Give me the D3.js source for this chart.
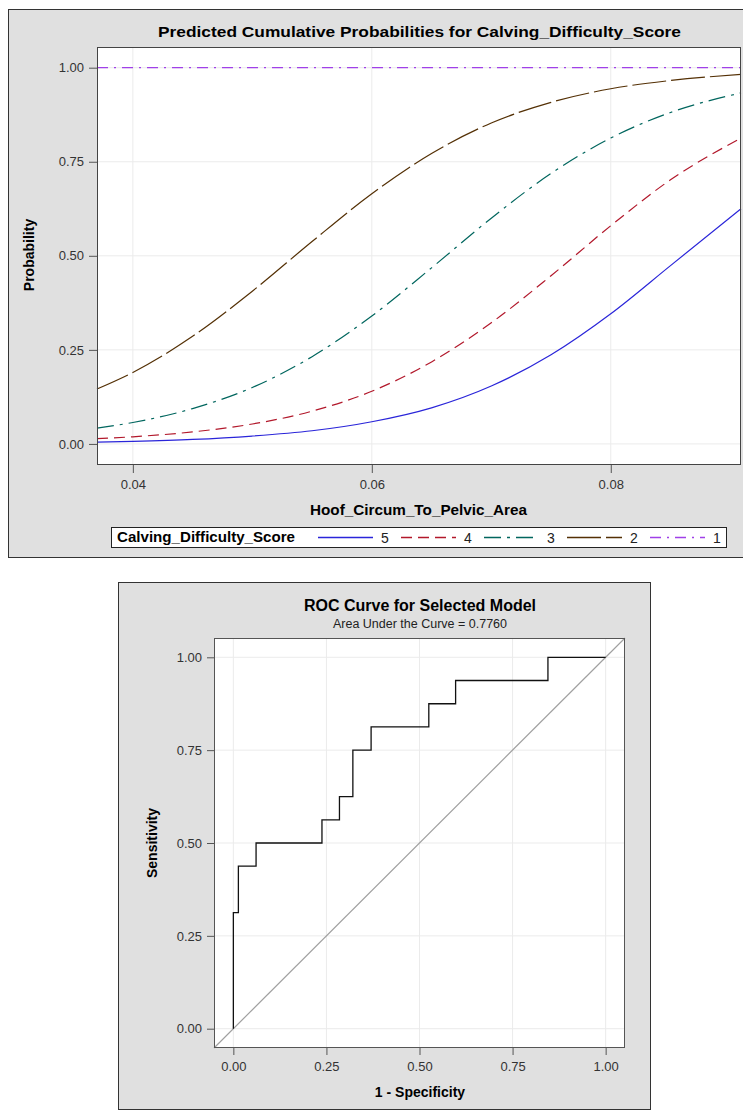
<!DOCTYPE html>
<html>
<head>
<meta charset="utf-8">
<script src="https://cdn.jsdelivr.net/npm/d3@7"></script>
<style>
  body { margin: 0; background: #fff; }
  svg { display: block; font-family: "Liberation Sans", Arial, sans-serif; }
  .tick text { fill: #333; }
</style>
</head>
<body>
<div id="chart-area"></div>
<script>
// ---- top chart: cumulative probabilities ----
var hoofRatio = [0.037, 0.040, 0.045, 0.050, 0.055, 0.060, 0.065, 0.070, 0.075, 0.080, 0.085, 0.0909];
var probScore5 = [0.005, 0.007, 0.012, 0.021, 0.035, 0.059, 0.096, 0.154, 0.237, 0.346, 0.474, 0.625];
var probScore4 = [0.014, 0.019, 0.032, 0.053, 0.087, 0.140, 0.218, 0.322, 0.447, 0.580, 0.702, 0.813];
var probScore3 = [0.042, 0.057, 0.094, 0.150, 0.232, 0.340, 0.468, 0.600, 0.719, 0.813, 0.881, 0.933];
var probScore2 = [0.146, 0.190, 0.286, 0.406, 0.538, 0.665, 0.772, 0.853, 0.908, 0.944, 0.966, 0.982];
var probScore1 = [1, 1, 1, 1, 1, 1, 1, 1, 1, 1, 1, 1];
var scoreLabels = ["5", "4", "3", "2", "1"];
var probTicksX = [0.04, 0.06, 0.08];
var probTicksY = [0, 0.25, 0.5, 0.75, 1];

// ---- bottom chart: ROC ----
var rocFpr = [0, 0, 0.0135, 0.061, 0.238, 0.285, 0.321, 0.370, 0.525, 0.597, 0.845, 1];
var rocSens = [0, 0.3125, 0.4375, 0.5, 0.5625, 0.625, 0.75, 0.8125, 0.875, 0.9375, 1, 1];
var rocTicks = [0, 0.25, 0.5, 0.75, 1];

var seriesColors = ["#2A25D9", "#B2182B", "#01665E", "#543005", "#A040E8"];
var seriesDash = [null, "11,6", "17,6,3,6", "34,5", "11,6,2,6"];

var svg = d3.select("#chart-area")
  .append("svg")
  .attr("width", 743)
  .attr("height", 1110);

function styleAxis(g) {
  g.select(".domain").remove();
  g.selectAll(".tick line").attr("stroke", "#555");
  g.selectAll(".tick text").attr("font-size", "13px");
}

// =============== TOP PANEL ===============
svg.append("rect")
  .attr("x", 8.5).attr("y", 9.5)
  .attr("width", 745).attr("height", 548)
  .attr("fill", "#e0e0e0")
  .attr("stroke", "#333");

var x = d3.scaleLinear().domain([0.037, 0.0909]).range([97, 741]);
var y = d3.scaleLinear().domain([-0.056, 1.055]).range([465, 47]);

svg.append("rect")
  .attr("x", 97).attr("y", 47)
  .attr("width", 644).attr("height", 418)
  .attr("fill", "#fff");

var probG = svg.append("g");

probG.selectAll(".vgrid")
  .data(probTicksX).enter()
  .append("line")
  .attr("x1", d => x(d)).attr("x2", d => x(d))
  .attr("y1", 47).attr("y2", 465)
  .attr("stroke", "#ebebeb");

probG.selectAll(".hgrid")
  .data(probTicksY).enter()
  .append("line")
  .attr("x1", 97).attr("x2", 741)
  .attr("y1", d => y(d)).attr("y2", d => y(d))
  .attr("stroke", "#ebebeb");

var allSeries = [probScore5, probScore4, probScore3, probScore2, probScore1];

var line = d3.line()
  .x((d, i) => x(hoofRatio[i]))
  .y(d => y(d))
  .curve(d3.curveMonotoneX);

probG.selectAll(".curve")
  .data(allSeries).enter()
  .append("path")
  .attr("d", d => line(d))
  .attr("fill", "none")
  .attr("stroke", (d, i) => seriesColors[i])
  .attr("stroke-width", 1.2)
  .attr("stroke-dasharray", (d, i) => seriesDash[i]);

svg.append("rect")
  .attr("x", 97.5).attr("y", 47.5)
  .attr("width", 643).attr("height", 417)
  .attr("fill", "none")
  .attr("stroke", "#444");

svg.append("g")
  .attr("transform", "translate(97,0)")
  .call(d3.axisLeft(y).tickValues(probTicksY).tickFormat(d3.format(".2f")).tickSize(8).tickPadding(5))
  .call(styleAxis);

svg.append("g")
  .attr("transform", "translate(0,465)")
  .call(d3.axisBottom(x).tickValues(probTicksX).tickFormat(d3.format(".2f")).tickSize(8).tickPadding(7))
  .call(styleAxis);

svg.append("text")
  .attr("x", 419.5).attr("y", 36.5)
  .attr("text-anchor", "middle")
  .attr("font-size", "15px").attr("font-weight", "bold")
  .attr("textLength", 523).attr("lengthAdjust", "spacingAndGlyphs")
  .text("Predicted Cumulative Probabilities for Calving_Difficulty_Score");

svg.append("text")
  .attr("x", 418.5).attr("y", 515)
  .attr("text-anchor", "middle")
  .attr("font-size", "14px").attr("font-weight", "bold")
  .attr("textLength", 217).attr("lengthAdjust", "spacingAndGlyphs")
  .text("Hoof_Circum_To_Pelvic_Area");

svg.append("text")
  .attr("transform", "translate(34,255) rotate(-90)")
  .attr("text-anchor", "middle")
  .attr("font-size", "14px").attr("font-weight", "bold")
  .text("Probability");

// legend
svg.append("rect")
  .attr("x", 111.5).attr("y", 527.5)
  .attr("width", 615).attr("height", 20)
  .attr("fill", "#fff")
  .attr("stroke", "#222");

svg.append("text")
  .attr("x", 117).attr("y", 542)
  .attr("font-size", "14px").attr("font-weight", "bold")
  .attr("textLength", 178).attr("lengthAdjust", "spacingAndGlyphs")
  .text("Calving_Difficulty_Score");

var legendItem = svg.selectAll(".legend-item")
  .data(scoreLabels).enter()
  .append("g")
  .attr("class", "legend-item")
  .attr("transform", (d, i) => `translate(${318 + i * 83}, 537.5)`);

legendItem.append("line")
  .attr("x1", 0).attr("x2", 55)
  .attr("stroke", d => seriesColors[scoreLabels.indexOf(d)])
  .attr("stroke-width", 1.4)
  .attr("stroke-dasharray", d => seriesDash[scoreLabels.indexOf(d)]);

legendItem.append("text")
  .attr("x", 67).attr("y", 5)
  .attr("text-anchor", "middle")
  .attr("font-size", "14px")
  .attr("fill", "#222")
  .text(d => d);

// =============== BOTTOM PANEL ===============
svg.append("rect")
  .attr("x", 118.5).attr("y", 582.5)
  .attr("width", 532).attr("height", 527)
  .attr("fill", "#e0e0e0")
  .attr("stroke", "#333");

var xr = d3.scaleLinear().domain([-0.052, 1.052]).range([214, 625]);
var yr = d3.scaleLinear().domain([-0.052, 1.052]).range([1048, 638]);

svg.append("rect")
  .attr("x", 214).attr("y", 638)
  .attr("width", 411).attr("height", 410)
  .attr("fill", "#fff");

var roc = svg.append("g");

roc.selectAll(".vgrid")
  .data(rocTicks).enter()
  .append("line")
  .attr("x1", d => xr(d)).attr("x2", d => xr(d))
  .attr("y1", 638).attr("y2", 1048)
  .attr("stroke", "#ebebeb");

roc.selectAll(".hgrid")
  .data(rocTicks).enter()
  .append("line")
  .attr("x1", 214).attr("x2", 625)
  .attr("y1", d => yr(d)).attr("y2", d => yr(d))
  .attr("stroke", "#ebebeb");

roc.append("line")
  .attr("x1", xr(-0.052)).attr("y1", yr(-0.052))
  .attr("x2", xr(1.052)).attr("y2", yr(1.052))
  .attr("stroke", "#a0a0a0")
  .attr("stroke-width", 1.2);

var rocLine = d3.line()
  .x((d, i) => xr(rocFpr[i]))
  .y(d => yr(d))
  .curve(d3.curveStepAfter);

roc.append("path")
  .attr("d", rocLine(rocSens))
  .attr("fill", "none")
  .attr("stroke", "#111")
  .attr("stroke-width", 1.3);

svg.append("rect")
  .attr("x", 214.5).attr("y", 638.5)
  .attr("width", 410).attr("height", 409)
  .attr("fill", "none")
  .attr("stroke", "#555");

svg.append("g")
  .attr("transform", "translate(214,0)")
  .call(d3.axisLeft(yr).tickValues(rocTicks).tickFormat(d3.format(".2f")).tickSize(7).tickPadding(5))
  .call(styleAxis);

svg.append("g")
  .attr("transform", "translate(0,1048)")
  .call(d3.axisBottom(xr).tickValues(rocTicks).tickFormat(d3.format(".2f")).tickSize(7).tickPadding(7))
  .call(styleAxis);

svg.append("text")
  .attr("x", 420).attr("y", 611)
  .attr("text-anchor", "middle")
  .attr("font-size", "16px").attr("font-weight", "bold")
  .text("ROC Curve for Selected Model");

svg.append("text")
  .attr("x", 420).attr("y", 627.5)
  .attr("text-anchor", "middle")
  .attr("font-size", "12.5px")
  .attr("fill", "#222")
  .text("Area Under the Curve = 0.7760");

svg.append("text")
  .attr("x", 420).attr("y", 1097)
  .attr("text-anchor", "middle")
  .attr("font-size", "14px").attr("font-weight", "bold")
  .text("1 - Specificity");

svg.append("text")
  .attr("transform", "translate(157,843) rotate(-90)")
  .attr("text-anchor", "middle")
  .attr("font-size", "14px").attr("font-weight", "bold")
  .text("Sensitivity");
</script>
</body>
</html>
